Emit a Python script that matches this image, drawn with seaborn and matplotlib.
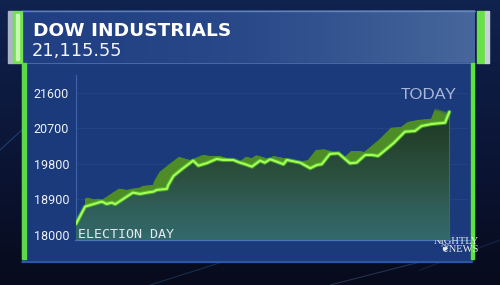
import numpy as np
import pandas as pd
import matplotlib
matplotlib.use("Agg")
import matplotlib.pyplot as plt
import matplotlib.patheffects as pe
from matplotlib.patches import Rectangle, Polygon
from matplotlib.colors import LinearSegmentedColormap
import seaborn as sns

# ---- data ----
day = [0, 1.9, 4.3, 5.4, 6.4, 7.5, 8.2, 11.9, 13.4, 14.8, 16.2, 16.9, 19.0, 19.3,
       20.4, 22.4, 24.5, 25.6, 27.3, 29.4, 30.8, 32.9, 34.3, 35.4, 36.8, 38.5,
       39.5, 40.6, 42.0, 43.4, 44.1, 46.9, 49.0, 50.4, 51.4, 53.1, 54.9, 57.3,
       58.7, 60.5, 61.9, 63.2, 66.4, 68.8, 70.9, 72.3, 74.4, 77.2, 78.1]
close = [18278, 18716, 18802, 18842, 18784, 18817, 18777, 19070, 19037, 19070,
         19095, 19139, 19164, 19265, 19493, 19688, 19880, 19753, 19814, 19923,
         19898, 19898, 19829, 19789, 19728, 19880, 19829, 19915, 19854, 19789,
         19898, 19829, 19688, 19771, 19789, 20049, 20067, 19814, 19829, 20024,
         20024, 19999, 20320, 20613, 20631, 20758, 20808, 20841, 21115.55]
y_ticks = [18000, 18900, 19800, 20700, 21600]
title = "DOW INDUSTRIALS"
subtitle = "21,115.55"
start_label = "ELECTION DAY"
end_label = "TODAY"

df = pd.DataFrame({"day": day, "close": close})

sns.set_style("dark")
plt.rcParams["font.family"] = ["DejaVu Sans"]

fig = plt.figure(figsize=(5, 2.85), dpi=100)
fig.patch.set_facecolor("#0a1230")

# ---- background decoration (pixel coordinates) ----
bg = fig.add_axes([0, 0, 1, 1], zorder=-10)
bg.set_xlim(0, 500)
bg.set_ylim(285, 0)
bg.axis("off")
back = np.linspace(0, 1, 64).reshape(-1, 1)
bg.imshow(back, extent=[0, 500, 285, 0], aspect="auto",
          cmap=LinearSegmentedColormap.from_list("b", ["#10224e", "#0c1638", "#070b1c"]),
          zorder=0)
for x0, x1, y0, y1, c, a in [(0, 60, 150, 95, "#2a6ab0", 0.5), (150, 260, 285, 250, "#3a6aa0", 0.35),
                              (330, 420, 285, 262, "#5a7ab0", 0.35), (420, 500, 270, 240, "#3a5a90", 0.3)]:
    bg.plot([x0, x1], [y0, y1], color=c, alpha=a, lw=0.8, zorder=1)

# header panel gradient
hgrad = np.linspace(0, 1, 128).reshape(1, -1)
bg.imshow(hgrad, extent=[22, 475, 63, 10], aspect="auto",
          cmap=LinearSegmentedColormap.from_list("h", ["#203e82", "#294989", "#46669c"]),
          zorder=2)
bg.plot([22, 475], [10.5, 10.5], color="#6f8fc4", lw=1.0, alpha=0.8, zorder=3)
bg.plot([22, 475], [62.5, 62.5], color="#5a7cb8", lw=0.8, alpha=0.7, zorder=3)
bg.add_patch(Rectangle((8, 11), 5, 52, color="#aab4c6", zorder=3))
bg.add_patch(Rectangle((13, 11), 9, 52, color="#72e24e", zorder=3))
bg.add_patch(Rectangle((15.5, 14), 3, 46, color="#c8f7b0", zorder=3))
bg.add_patch(Rectangle((477, 11), 8, 52, color="#6ae048", zorder=3))
bg.add_patch(Rectangle((485, 11), 4, 52, color="#c9d0dc", zorder=3))

# chart panel
bg.add_patch(Rectangle((22, 63), 450, 199, color="#1b3a7b", zorder=2))
bg.plot([22, 472], [262, 262], color="#2f5eb0", lw=1.2, zorder=3)
bg.add_patch(Rectangle((22, 63), 3.5, 196, color="#5cd848", zorder=3))
bg.add_patch(Rectangle((470.5, 63), 3.5, 196, color="#5ee23c", zorder=3))
bg.plot([75, 470], [240, 240], color="#4e80c0", lw=0.9, alpha=0.9, zorder=3)

bg.text(33, 36.5, title, color="white", fontsize=13.3, fontweight="bold",
        family="DejaVu Sans", va="baseline", ha="left", zorder=5)
bg.text(32, 55.5, subtitle, color="#f2f4f8", fontsize=12.8,
        family="DejaVu Sans", va="baseline", ha="left", zorder=5)
bg.text(456, 245.5, "NIGHTLY\n\u2766NEWS", color="#e8ecf4", fontsize=7.6,
        family=["Liberation Serif", "DejaVu Sans"], ha="center", va="center",
        multialignment="right", linespacing=0.95, zorder=5)

# ---- chart axes ----
ax_left_px, ax_w_px, ax_h_px = 76, 392, 165
ax = fig.add_axes([ax_left_px / 500, (285 - 240) / 285, ax_w_px / 500, ax_h_px / 285])
ax.set_facecolor((0, 0, 0, 0))
xmax = 82.0
ybot, ytop = 17870, 22050
px_x = xmax / ax_w_px            # data units per pixel (x)
px_y = (ytop - ybot) / ax_h_px   # data units per pixel (y)
x0d, x1d = min(day), max(day)

area_xy = list(zip(day, close)) + [(x1d, ybot), (x0d, ybot)]

# 3D extrusion: the same area swept a few pixels back (up-left), not left of the first rise
sh_clip = Rectangle((day[1], ybot), xmax - day[1], ytop - ybot,
                    transform=ax.transData, visible=False)
ax.add_patch(sh_clip)
for t in np.linspace(0.07, 1.0, 15):
    dxp, dyp = -14.0 * t, 4.0 * t
    sh_xy = [(x + dxp * px_x, y + dyp * px_y) for x, y in area_xy]
    sh = Polygon(sh_xy, closed=True, facecolor="#4e8c28", edgecolor="none", zorder=1)
    ax.add_patch(sh)
    sh.set_clip_path(sh_clip)

# main area with vertical gradient
main = Polygon(area_xy, closed=True, facecolor="#27463a", edgecolor="none", zorder=2)
ax.add_patch(main)
grad = np.linspace(0, 1, 256).reshape(-1, 1)
gcmap = LinearSegmentedColormap.from_list(
    "g", ["#1e3828", "#25442f", "#2c5040", "#305e58", "#336a6c"])
im = ax.imshow(grad, extent=[x0d, x1d, ybot, max(close)], aspect="auto",
               cmap=gcmap, origin="upper", zorder=3)
im.set_clip_path(main)
ax.plot([x1d, x1d], [ybot, max(close)], color="#3e6a50", lw=0.8, zorder=3)

# line with glow
sns.lineplot(data=df, x="day", y="close", ax=ax, color="#a6ff55", lw=1.5, zorder=5,
             path_effects=[pe.Stroke(linewidth=3.0, foreground="#58d82a", alpha=0.6),
                           pe.Normal()])

ax.set_xlim(0, xmax)
ax.set_ylim(ybot, ytop)
ax.set_yticks(y_ticks)
ax.set_yticklabels([str(v) for v in y_ticks])
ax.set_xticks([])
ax.set_xlabel("")
ax.set_ylabel("")
ax.grid(axis="y", color="#2a4a8c", lw=0.6, alpha=0.6)
ax.grid(axis="x", visible=False)
for s in ["top", "right", "bottom"]:
    ax.spines[s].set_visible(False)
ax.spines["left"].set_color("#3f62a6")
ax.spines["left"].set_linewidth(0.8)
ax.tick_params(axis="y", colors="#c9d5ee", length=3, width=1.2, pad=2,
               labelcolor="#eef2fa", direction="out")
for lab in ax.get_yticklabels():
    lab.set_family("Roboto")
    lab.set_fontsize(9)

ax.text(x0d + 0.4, 18000, start_label, color="#e2e8f4", fontsize=9.6,
        family="DejaVu Sans Mono", ha="left", va="center", zorder=6)
ax.text(x1d + 1.4, 21540, end_label, color="#a9b6d5", fontsize=11.6,
        family="Lato", ha="right", va="center", zorder=6)

fig.savefig("out.png", dpi=100, facecolor=fig.get_facecolor())
